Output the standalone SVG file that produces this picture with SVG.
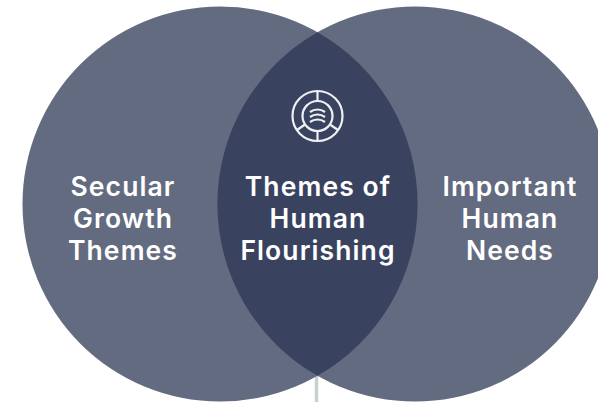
<svg xmlns="http://www.w3.org/2000/svg" width="598" height="402" viewBox="0 0 598 402">
<style>
.c{fill:#636b80}
.o{fill:#39435f}
.t{font-family:"Inter","Liberation Sans",sans-serif;font-size:26.500px;font-weight:600;fill:#fff;text-anchor:middle;letter-spacing:1.100px}
.i{fill:none;stroke:#eef0f3;stroke-width:2.200}
</style>
<rect width="598" height="402" fill="#fff"/>
<g id="connectors"><line x1="316.500" y1="370" x2="316.500" y2="402" stroke="#c9d0d2" stroke-width="3.500"/></g>
<g id="left"><circle class="c" cx="220" cy="204" r="197.500"/>
<text class="t"><tspan x="123" y="195.500">Secular</tspan><tspan x="123" y="227.500">Growth</tspan><tspan x="123" y="259.500">Themes</tspan></text></g>
<g id="right"><circle class="c" cx="415" cy="204" r="197.500"/>
<text class="t"><tspan x="510" y="195.500">Important</tspan><tspan x="510" y="227.500">Human</tspan><tspan x="510" y="259.500">Needs</tspan></text></g>
<g id="overlap"><path class="o" d="M317.500 32.200A197.500 197.500 0 0 1 317.500 375.800A197.500 197.500 0 0 1 317.500 32.200Z"/>
<text class="t"><tspan x="318" y="195.500">Themes of</tspan><tspan x="318" y="227.500">Human</tspan><tspan x="318" y="259.500">Flourishing</tspan></text>
<g class="i"><circle cx="317.500" cy="116" r="25"/><circle cx="317.500" cy="116" r="15"/>
<path d="M317.500 91V101M317.500 131V141M305 124.500L297 130M330 124.500L338 130"/>
<path d="M310 112Q313.500 109.500 317.500 109.500T325 112M310 117Q313.500 114.500 317.500 114.500T325 117M310 122Q313.500 119.500 317.500 119.500T325 122"/></g></g>
</svg>
